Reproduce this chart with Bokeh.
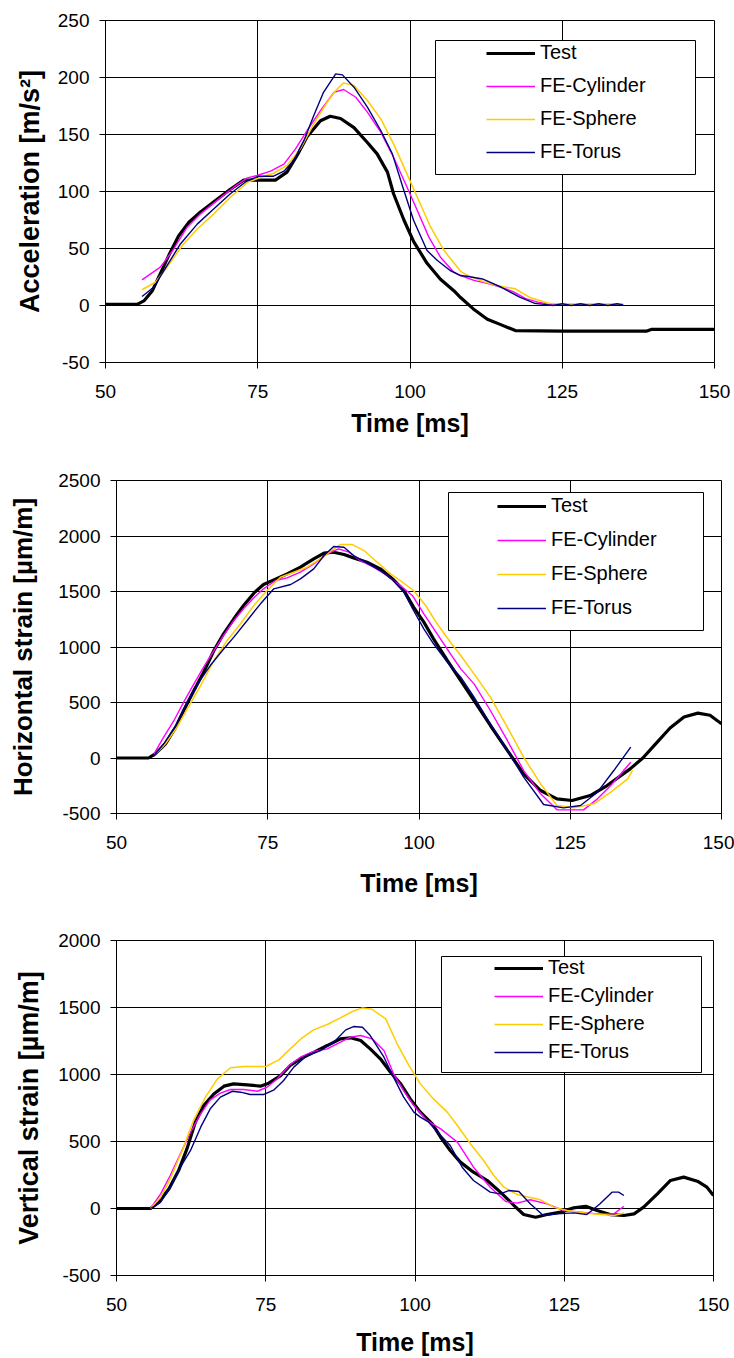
from bokeh.plotting import figure
from bokeh.models import Legend, LegendItem, BoxAnnotation, FixedTicker, Range1d
from bokeh.embed import file_html
from bokeh.resources import INLINE

FONT = "Liberation Sans"

# ---------------- shared axis data ----------------
x_ticks = [50, 75, 100, 125, 150]
x_tick_labels = ["50", "75", "100", "125", "150"]
x_title = "Time [ms]"
series_names = ["Test", "FE-Cylinder", "FE-Sphere", "FE-Torus"]
series_colors = ["#000000", "#FF00FF", "#FFCC00", "#000080"]
series_widths = [3.2, 1.4, 1.5, 1.4]

# ---------------- panel 1: acceleration ----------------
acc_title = "Acceleration [m/s\u00b2]"
acc_ticks = [-50, 0, 50, 100, 150, 200, 250]
acc_tick_labels = ["-50", "0", "50", "100", "150", "200", "250"]

acc_test_t = [50, 55.2, 56.3, 57.7, 59.0, 60.4, 62.0, 63.7, 65.6, 67.8, 70.5, 72.7, 75.5, 77.9,
              79.8, 81.5, 83.1, 85.3, 86.9, 88.6, 90.8, 93.0, 94.6, 96.3, 97.3, 99.0, 100.6,
              102.8, 105.0, 107.2, 108.3, 110.4, 112.7, 115.0, 117.3, 125, 138.8, 139.6, 150]
acc_test_v = [1, 1, 4, 13, 28, 44, 61, 73, 82, 91, 102, 110, 110, 110,
              117, 132, 148, 162, 166, 164, 156, 143, 133, 117, 98, 75, 56,
              37, 23, 13, 7, -3, -12, -17, -22, -22.5, -22.5, -21, -21]

acc_cyl_t = [56.0, 59.0, 61.0, 63.4, 65.6, 68.3, 71.1, 73.3, 74.9, 77.1, 79.3, 81.2, 83.1, 85.3,
             87.5, 89.1, 91.1, 93.0, 95.2, 97.3, 99.5, 101.2, 103.1, 105.0, 107.2, 108.3, 110.5,
             113, 115, 117, 119, 121, 123, 125, 127, 129, 131, 133, 135]
acc_cyl_v = [22.5, 33.6, 48, 68.7, 80.4, 92, 104, 112, 114, 117.8, 124, 137.4, 153.5, 171,
             187, 189.5, 182.7, 169.6, 152, 130, 104, 83.3, 60, 42.4, 29.2, 26.3, 22,
             19, 16, 12, 6, 3, 1, 1, 1, 1, 1, 1, 1]

acc_sph_t = [56.0, 58.2, 60.1, 62.6, 65.1, 67.8, 70.5, 73.3, 75.5, 77.6, 79.8, 82.0, 84.2, 86.4,
             87.8, 89.1, 90.8, 93.0, 95.2, 97.3, 99.5, 101.2, 103.4, 105.6, 108.3, 109.6, 112,
             114.2, 117.3, 119.6, 122.7, 125, 128, 131, 135]
acc_sph_v = [13.8, 20.4, 33.6, 52.6, 67.3, 80.4, 95, 108, 112.5, 116, 122.8, 137.4, 159.4, 178.4,
             188.6, 195.3, 193, 179.8, 163.7, 141.8, 115.5, 95, 68.7, 48.2, 30, 26, 21,
             17.5, 14.6, 7.3, 2, 1, 1, 1, 1]

acc_tor_t = [56.0, 57.9, 60.1, 62.3, 65.1, 67.8, 70.5, 73.3, 75.2, 77.6, 79.3, 80.9, 82.6, 84.2,
             85.8, 87.8, 88.9, 90.8, 93.0, 95.2, 97.1, 99.0, 100.6, 102.8, 104.5, 106.6, 108.3,
             109.6, 111.9, 115.0, 118.0, 120.4, 122, 123.5, 125, 126.5, 128, 129.5, 131, 132.5,
             134, 135]
acc_tor_v = [7.9, 16, 35, 54, 71.6, 84.8, 98, 109.6, 113.4, 113.4, 117.8, 127.2, 144.7, 166.7,
             187, 203.2, 202.3, 191.5, 174, 153.5, 133, 100.9, 74.6, 48.2, 39.5, 30.7, 26.3,
             25.4, 23.3, 16, 7.3, 2, 1, 0, 1.5, 0, 1.5, 0, 1.5, 0,
             1.5, 0.5]

# ---------------- panel 2: horizontal strain ----------------
hs_title = "Horizontal strain [\u00b5m/m]"
hs_ticks = [-500, 0, 500, 1000, 1500, 2000, 2500]
hs_tick_labels = ["-500", "0", "500", "1000", "1500", "2000", "2500"]

hs_test_t = [50, 55.3, 56.4, 58.1, 59.8, 61.1, 62.8, 64.4, 66.1, 67.7, 69.4, 71.0, 72.7, 74.3,
             76.0, 78.2, 80.4, 82.6, 84.3, 85.9, 87.6, 89.2, 91.4, 93.6, 95.8, 97.5, 99.1,
             100.8, 102.4, 104.7, 106.9, 109.1, 111.8, 114.6, 117.3, 120.1, 122.8, 125.3,
             128.3, 131.1, 134.9, 137.0, 139.0, 141.5, 143.8, 146.1, 148.1, 150]
hs_test_v = [0, 0, 37, 128, 278, 428, 608, 773, 968, 1119, 1254, 1374, 1485, 1563,
             1605, 1659, 1719, 1794, 1845, 1854, 1833, 1803, 1764, 1704, 1605, 1509, 1359,
             1224, 1074, 878, 698, 518, 293, 68, -143, -293, -368, -383,
             -338, -248, -98, 0, 120, 270, 370, 404, 385, 308]

hs_cyl_t = [56.2, 57.8, 59.5, 61.1, 62.8, 64.4, 66.1, 67.7, 69.4, 71.0, 72.7, 74.3, 76.3, 78.2,
            80.4, 82.6, 84.8, 86.7, 88.4, 90.3, 92.5, 94.7, 96.9, 98.9, 100.8, 103.0, 105.2,
            106.9, 109.1, 111.8, 114.6, 117.3, 120.1, 122.8, 127.2, 129.5, 131.7, 135.0]
hs_cyl_v = [37, 188, 338, 503, 668, 818, 968, 1104, 1239, 1344, 1443, 1524, 1599, 1623,
            1674, 1749, 1839, 1884, 1854, 1779, 1719, 1644, 1554, 1464, 1299, 1119, 938,
            803, 668, 428, 158, -113, -323, -467, -467, -368, -248, -38]

hs_sph_t = [56.2, 58.1, 60.0, 61.7, 63.9, 66.1, 68.3, 70.5, 72.7, 74.9, 77.1, 79.3, 81.5, 83.7,
            85.9, 87.0, 89.0, 90.9, 93.1, 95.3, 96.9, 99.1, 101.1, 103.0, 105.2, 106.9, 109.1,
            111.8, 114.6, 117.3, 120.1, 122.8, 125.6, 128.9, 131.7, 134.5, 135.3]
hs_sph_v = [22, 128, 278, 443, 653, 878, 1059, 1209, 1374, 1509, 1629, 1674, 1719, 1794,
            1884, 1923, 1923, 1869, 1764, 1659, 1599, 1509, 1374, 1209, 1043, 923, 758,
            548, 278, 7, -233, -428, -449, -413, -308, -188, -110]

hs_tor_t = [56.1, 57.8, 59.8, 61.7, 63.6, 65.5, 67.5, 69.4, 71.6, 73.8, 76.0, 78.8, 80.4, 82.6,
            84.3, 85.9, 87.6, 89.2, 91.4, 93.6, 95.8, 97.5, 99.1, 100.8, 102.4, 104.7, 106.9,
            109.1, 111.8, 114.6, 117.3, 120.6, 123.9, 126.7, 129.5, 132.2, 135.0]
hs_tor_v = [14, 128, 293, 503, 683, 833, 968, 1089, 1239, 1389, 1524, 1563, 1614, 1704,
            1824, 1905, 1899, 1824, 1755, 1689, 1599, 1494, 1329, 1164, 1029, 863, 728,
            548, 308, 68, -173, -419, -449, -428, -308, -113, 98]

# ---------------- panel 3: vertical strain ----------------
vs_title = "Vertical strain [\u00b5m/m]"
vs_ticks = [-500, 0, 500, 1000, 1500, 2000]
vs_tick_labels = ["-500", "0", "500", "1000", "1500", "2000"]

vs_test_t = [50, 55.7, 57.1, 58.8, 60.4, 61.8, 63.2, 64.6, 66.3, 68.0, 69.6, 71.9, 74.1, 75.5,
             77.5, 79.1, 80.8, 83.1, 85.3, 87.5, 89.2, 90.9, 92.5, 94.2, 95.9, 97.6, 99.2,
             100.9, 102.9, 104.3, 105.9, 107.6, 109.8, 112.1, 114.3, 116.6, 118.2, 120.2,
             122.1, 124.4, 126.6, 128.6, 130.5, 132.7, 135.0, 136.7, 138.3, 140.6, 142.8,
             145.0, 147.3, 148.9, 150]
vs_test_v = [0, 0, 47, 147, 283, 445, 644, 768, 855, 913, 930, 923, 913, 935,
             992, 1067, 1117, 1167, 1216, 1266, 1274, 1254, 1191, 1117, 1017, 930, 818,
             719, 632, 532, 433, 346, 271, 209, 122, 22, -45, -65,
             -45, -27, 5, 17, -15, -45, -52, -40, 10, 109, 209,
             234, 204, 159, 97]

vs_cyl_t = [55.7, 57.4, 59.0, 60.7, 62.4, 64.1, 65.7, 67.4, 69.1, 71.3, 73.6, 75.2, 76.9, 78.9,
            80.8, 83.0, 85.3, 87.5, 89.2, 90.9, 92.8, 94.8, 96.4, 98.1, 99.8, 102.0, 104.3,
            107.1, 109.8, 112.6, 115.2, 117.1, 119.3, 122.1, 124.9, 127.7, 130.5, 133.3, 135.0]
vs_cyl_v = [0, 109, 246, 408, 569, 706, 811, 861, 888, 888, 875, 905, 967, 1067,
            1129, 1172, 1191, 1241, 1279, 1291, 1266, 1179, 1005, 880, 768, 657, 594,
            495, 308, 159, 52, 40, 65, 35, -15, -27, -40, -40, 17]

vs_sph_t = [55.7, 57.4, 59.0, 61.0, 62.9, 64.9, 66.9, 69.1, 71.3, 75.0, 77.2, 79.1, 81.1, 83.0,
            85.3, 87.5, 89.5, 91.2, 92.8, 95.1, 97.0, 99.0, 100.9, 103.1, 105.4, 107.1, 109.3,
            111.5, 113.2, 114.9, 117.1, 121.0, 123.3, 125.5, 128.8, 133.3, 135.0]
vs_sph_v = [0, 84, 221, 433, 657, 831, 967, 1050, 1060, 1060, 1109, 1191, 1274, 1333,
            1373, 1423, 1470, 1497, 1487, 1415, 1229, 1067, 930, 818, 719, 619, 482,
            358, 246, 159, 104, 65, 10, -15, -35, -52, -33]

vs_tor_t = [55.7, 57.4, 59.0, 60.7, 62.4, 64.1, 65.7, 67.4, 69.4, 70.8, 72.4, 74.7, 76.4, 78.0,
            79.7, 81.9, 84.2, 86.4, 88.4, 89.7, 91.2, 92.5, 94.8, 96.4, 98.1, 99.8, 100.9,
            102.3, 104.3, 105.9, 107.9, 109.8, 112.6, 114.3, 115.7, 117.4, 119.3, 121.5,
            123.8, 126.6, 128.8, 131.0, 133.0, 134.1, 135.0]
vs_tor_v = [0, 47, 159, 308, 433, 607, 744, 831, 875, 868, 851, 851, 886, 955,
            1055, 1142, 1179, 1241, 1333, 1358, 1353, 1291, 1129, 980, 831, 719, 682,
            644, 545, 470, 308, 209, 122, 109, 134, 127, 35, -52,
            -40, -33, -45, 35, 122, 122, 97]


def make_panel(y_title, y_title_size, y_ticks, y_tick_labels, y_lo, y_hi, series,
               height, b_left, b_right, b_top, b_bottom,
               ylab_standoff, xlab_standoff, leg_loc, leg_spacing, box):
    p = figure(width=734, height=height, output_backend="svg", toolbar_location=None,
               x_range=Range1d(50, 150), y_range=Range1d(y_lo, y_hi),
               min_border_left=b_left, min_border_right=b_right,
               min_border_top=b_top, min_border_bottom=b_bottom)
    p.background_fill_color = "white"
    p.border_fill_color = "white"
    p.outline_line_color = "black"
    p.outline_line_width = 1

    p.xaxis.ticker = FixedTicker(ticks=x_ticks)
    p.yaxis.ticker = FixedTicker(ticks=y_ticks)
    p.xgrid.ticker = FixedTicker(ticks=x_ticks)
    p.ygrid.ticker = FixedTicker(ticks=y_ticks)
    p.xaxis.major_label_overrides = {t: s for t, s in zip(x_ticks, x_tick_labels)}
    p.yaxis.major_label_overrides = {t: s for t, s in zip(y_ticks, y_tick_labels)}
    for g in (p.xgrid, p.ygrid):
        g.grid_line_color = "black"
        g.grid_line_alpha = 1.0
        g.grid_line_width = 1
    for ax in (p.xaxis, p.yaxis):
        ax.axis_line_color = "black"
        ax.major_tick_line_color = "black"
        ax.major_tick_in = 0
        ax.major_tick_out = 6
        ax.minor_tick_out = 0
        ax.minor_tick_in = 0
        ax.major_label_text_font = FONT
        ax.major_label_text_font_size = "19px"
        ax.major_label_text_color = "black"
        ax.major_label_standoff = 10
        ax.axis_label_text_font = FONT
        ax.axis_label_text_font_style = "bold"
        ax.axis_label_text_font_size = "25px"
        ax.axis_label_text_color = "black"
    p.xaxis.major_label_standoff = 16
    p.yaxis.axis_label_text_font_size = y_title_size
    p.xaxis.axis_label = x_title
    p.yaxis.axis_label = y_title
    p.yaxis.axis_label_standoff = ylab_standoff
    p.xaxis.axis_label_standoff = xlab_standoff

    renderers = []
    for (ts, vs), c, w in zip(series, series_colors, series_widths):
        r = p.line(ts, vs, line_color=c, line_width=w)
        renderers.append(r)

    bl, br, bt, bb = box
    p.add_layout(BoxAnnotation(left=bl, right=br, top=bt, bottom=bb,
                               left_units="screen", right_units="screen",
                               top_units="screen", bottom_units="screen",
                               fill_color="white", fill_alpha=1.0,
                               line_color="black", line_width=1, line_alpha=1.0))
    items = [LegendItem(label=n, renderers=[r]) for n, r in zip(series_names, renderers)]
    leg = Legend(items=items, location=leg_loc, padding=0, margin=0,
                 spacing=leg_spacing, glyph_width=49, glyph_height=22,
                 label_height=22, label_standoff=5,
                 label_text_font=FONT, label_text_font_size="20px",
                 label_text_color="black",
                 border_line_alpha=0, background_fill_alpha=0)
    p.add_layout(leg)
    return p


p1 = make_panel(acc_title, "27px", acc_ticks, acc_tick_labels, -50, 250,
                [(acc_test_t, acc_test_v), (acc_cyl_t, acc_cyl_v),
                 (acc_sph_t, acc_sph_v), (acc_tor_t, acc_tor_v)],
                460, 105, 20, 20, 98, 10, 8, (381, 199), 10, (330, 590, 322, 188))
p2 = make_panel(hs_title, "26px", hs_ticks, hs_tick_labels, -500, 2500,
                [(hs_test_t, hs_test_v), (hs_cyl_t, hs_cyl_v),
                 (hs_sph_t, hs_sph_v), (hs_tor_t, hs_tor_v)],
                460, 116, 13, 20, 107, 17, 17, (381, 194), 11, (332, 587, 321, 183))
p3 = make_panel(vs_title, "27px", vs_ticks, vs_tick_labels, -500, 2000,
                [(vs_test_t, vs_test_v), (vs_cyl_t, vs_cyl_v),
                 (vs_sph_t, vs_sph_v), (vs_tor_t, vs_tor_v)],
                438, 116, 21, 20, 83, 11, 14, (378, 212), 5, (325, 585, 319, 203))

open("out.html", "w").write(file_html([p1, p2, p3], INLINE))
